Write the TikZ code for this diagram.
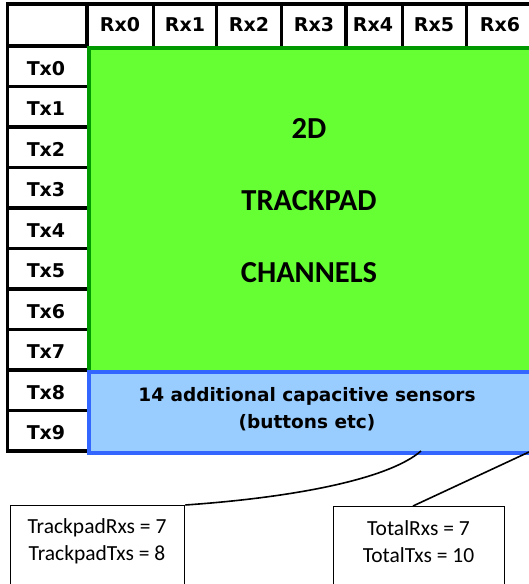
\documentclass[tikz,border=0pt]{standalone}
\usepackage{fontspec}
\setmainfont{DejaVu Sans}
\newfontfamily\calib{Carlito}
\definecolor{padgreen}{HTML}{66FF33}
\definecolor{padgreenedge}{HTML}{009900}
\definecolor{btnblue}{HTML}{99CCFF}
\definecolor{btnblueedge}{HTML}{3366FF}
\begin{document}
\begin{tikzpicture}[x=1pt,y=-1pt,
  grid/.style={line width=3.5pt, black},
  hdr/.style={font=\fontsize{19}{21}\selectfont\bfseries, inner sep=0pt},
  bigtxt/.style={font=\calib\fontsize{30.5}{33}\selectfont\bfseries, inner sep=0pt},
  smalltxt/.style={font=\calib\fontsize{21.5}{27}\selectfont, align=center, inner sep=0pt},
  infobox/.style={draw, line width=1.3pt, minimum width=174pt, minimum height=120pt, anchor=north west, inner sep=0pt},
  conn/.style={line width=1.6pt, black}]
\useasboundingbox (0,0) rectangle (529,584);
\clip (0,0) rectangle (529,584);
\fill[white] (0,0) rectangle (529,584);
% grid
\draw[grid] (7.5,4) -- (540,4);
\draw[grid] (7.5,2.25) -- (7.5,451);
\draw[grid] (5.75,451) -- (87,451);
\foreach \k in {0,...,9} {
  \draw[grid] (7.5,{46+40.5*\k}) -- (87,{46+40.5*\k});
}
\foreach \x in {87,153.5,216.5,281.5,346,402.5,466.5} {
  \draw[grid] (\x,4) -- (\x,46);
}
% header labels
\foreach \lab/\cx in {Rx0/120,Rx1/185,Rx2/249,Rx3/314,Rx4/373,Rx5/434,Rx6/500} {
  \node[hdr] (\lab) at (\cx,24.5) {\lab};
}
\foreach \k in {0,...,9} {
  \node[hdr] (Tx\k) at (46,{46+40.5*\k+22.5}) {Tx\k};
}
% regions
\node[draw=padgreenedge, fill=padgreen, line width=4pt, anchor=north west,
      minimum width=460pt, minimum height=324pt, inner sep=0pt] (pad) at (87,46) {};
\node[draw=btnblueedge, fill=btnblue, line width=4pt, anchor=north west,
      minimum width=460pt, minimum height=81pt, inner sep=0pt] (btn) at (87,370) {};
\node[bigtxt] (t2d) at (309,128) {2D};
\node[bigtxt] (ttp) at (309,200.5) {TRACKPAD};
\node[bigtxt] (tch) at (309,273) {CHANNELS};
\node[font=\fontsize{18.5}{27}\selectfont\bfseries, align=center, inner sep=0pt] (btxt) at (307,409) {14 additional capacitive sensors\\(buttons etc)};
% info boxes
\node[infobox] (lbox) at (10,505) {};
\node[infobox, minimum width=171pt] (rbox) at (333,506) {};
\node[smalltxt] (ltxt) at (97,541.5) {TrackpadRxs = 7\\TrackpadTxs = 8};
\node[smalltxt] (rtxt) at (418.5,541.5) {TotalRxs = 7\\TotalTxs = 10};
% connectors
\coordinate (padend) at (421,451);
\coordinate (totend) at (529,452);
\coordinate (rtop) at (413,506);
\draw[conn] (lbox.north east) .. controls (300,497) and (390,478) .. (padend);
\draw[conn] (rtop) -- (totend);
\end{tikzpicture}
\end{document}
